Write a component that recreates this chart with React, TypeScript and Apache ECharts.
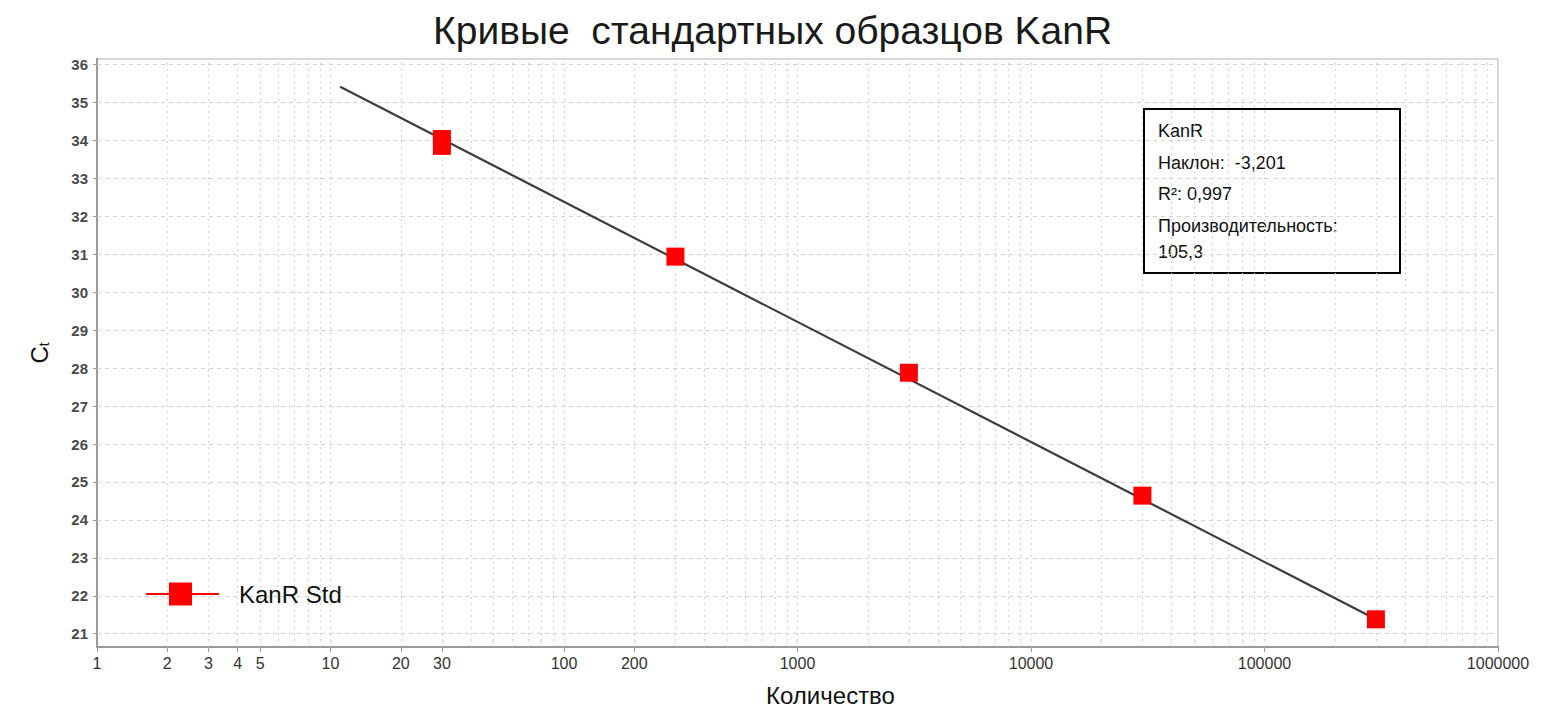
import React, { useEffect, useRef } from "react";
import * as echarts from "echarts";

// ---- data ----
const quantities = [30, 30, 300, 3000, 30000, 300000];
const ctValues = [33.86, 34.04, 30.94, 27.88, 24.64, 21.38];
const fitX = [11, 300000];
const fitCt = [35.42, 21.38];
const xTickLabels = [1, 2, 3, 4, 5, 10, 20, 30, 100, 200, 1000, 10000, 100000, 1000000];
const xGridValues = [
  2, 3, 4, 5, 6, 7, 8, 9, 10,
  20, 30, 40, 50, 60, 70, 80, 90, 100,
  200, 300, 400, 500, 600, 700, 800, 900, 1000,
  2000, 3000, 4000, 5000, 6000, 7000, 8000, 9000, 10000,
  20000, 30000, 40000, 50000, 60000, 70000, 80000, 90000, 100000,
  200000, 300000, 400000, 500000, 600000, 700000, 800000, 900000,
];
const yTicks = [21, 22, 23, 24, 25, 26, 27, 28, 29, 30, 31, 32, 33, 34, 35, 36];
const infoLines = ["KanR", "Наклон:  -3,201", "R²: 0,997", "Производительность:", "105,3"];

const FONT = "'Liberation Sans', Arial, sans-serif";

export default function App() {
  const ref = useRef<HTMLDivElement>(null);
  useEffect(() => {
    if (!ref.current) return;
    const chart = echarts.init(ref.current, undefined, { renderer: "svg" });
    const fitData = fitX.map((x, i) => [x, fitCt[i]]);
    const pts = quantities.map((q, i) => [q, ctValues[i]]);
    const infoY = [130, 162, 193, 225, 251];
    chart.setOption({
      animation: false,
      backgroundColor: "#ffffff",
      textStyle: { fontFamily: FONT },
      title: {
        text: "Кривые  стандартных образцов KanR",
        left: 428,
        top: 6,
        textStyle: { fontSize: 39, fontWeight: "normal", color: "#1a1a1a", fontFamily: FONT },
      },
      legend: {
        left: 141,
        top: 577,
        itemWidth: 73,
        itemHeight: 23,
        data: [
          {
            name: "KanR Std",
            icon: "path://M0,10.5L23,10.5L23,0L46,0L46,10.5L73,10.5L73,12.5L46,12.5L46,23L23,23L23,12.5L0,12.5Z",
            itemStyle: { color: "#ff0000" },
          },
        ],
        textStyle: { fontSize: 24, color: "#111", fontFamily: FONT, padding: [0, 0, 0, 15] },
      },
      grid: {
        left: 97,
        right: 69,
        top: 59,
        bottom: 71,
        show: true,
        borderColor: "#b0b0b0",
        borderWidth: 1,
      },
      xAxis: {
        type: "log",
        logBase: 10,
        min: 1,
        max: 1000000,
        name: "Количество",
        nameLocation: "middle",
        nameGap: 36,
        nameTextStyle: { fontSize: 24, color: "#111", fontFamily: FONT, padding: [0, 0, 0, 66] },
        axisLine: { show: true, lineStyle: { color: "#9a9a9a", width: 2 } },
        axisTick: { show: true, customValues: xTickLabels, length: 5, lineStyle: { color: "#9a9a9a" } },
        axisLabel: {
          customValues: xTickLabels,
          fontSize: 16,
          color: "#333",
          margin: 8,
          hideOverlap: false,
          formatter: (v: number) => String(Math.round(v)),
        },
        splitLine: { show: false },
      },
      yAxis: {
        type: "value",
        min: 20.65,
        max: 36.15,
        name: "{c|C}{t|t}",
        nameLocation: "middle",
        nameGap: 46,
        nameRotate: 90,
        nameTextStyle: {
          color: "#111",
          fontFamily: FONT,
          rich: {
            c: { fontSize: 24, lineHeight: 24, verticalAlign: "top", color: "#111", fontFamily: FONT },
            t: { fontSize: 14, lineHeight: 14, padding: [15, 0, 0, 0], verticalAlign: "bottom", color: "#111", fontFamily: FONT },
          },
        },
        axisLine: { show: true, lineStyle: { color: "#9a9a9a", width: 2 } },
        axisTick: { show: true, customValues: yTicks, length: 4, lineStyle: { color: "#9a9a9a" } },
        axisLabel: {
          customValues: yTicks,
          fontSize: 15,
          fontWeight: "bold",
          color: "#4a4a4a",
          margin: 9,
        },
        splitLine: { show: false },
      },
      series: [
        {
          type: "line",
          name: "grid",
          data: [],
          silent: true,
          z: 1,
          markLine: {
            silent: true,
            symbol: "none",
            label: { show: false },
            animation: false,
            z: 1,
            data: [
              ...xGridValues.map((v) => ({
                xAxis: v,
                lineStyle: { color: "#d2d2d2", width: 1, type: [2, 4] },
              })),
              ...yTicks.map((v) => ({
                yAxis: v,
                lineStyle: { color: "#d2d2d2", width: 1, type: [4, 4] },
              })),
            ],
          },
        },
        {
          type: "line",
          name: "fit",
          data: fitData,
          symbol: "none",
          lineStyle: { color: "#3c3c3c", width: 2.2 },
          silent: true,
          z: 3,
        },
        {
          type: "scatter",
          name: "KanR Std",
          data: pts,
          symbol: "rect",
          symbolSize: 18,
          itemStyle: { color: "#ff0000", opacity: 1 },
          z: 6,
        },
      ],
      graphic: [
        {
          type: "group",
          left: 1143,
          top: 108,
          children: [
            {
              type: "rect",
              shape: { x: 0, y: 0, width: 256, height: 164 },
              style: { fill: "#ffffff", stroke: "#000000", lineWidth: 2 },
            },
            ...infoLines.map((t, i) => ({
              type: "text",
              x: 14,
              y: infoY[i] - 108,
              style: {
                text: t,
                fontSize: 18,
                fill: "#111",
                fontFamily: FONT,
                verticalAlign: "middle",
              },
            })),
          ],
        },
      ],
    });
    return () => chart.dispose();
  }, []);
  return (
    <div
      ref={ref}
      style={{ position: "fixed", left: 0, top: 0, width: 1567, height: 718, background: "#fff" }}
    />
  );
}
